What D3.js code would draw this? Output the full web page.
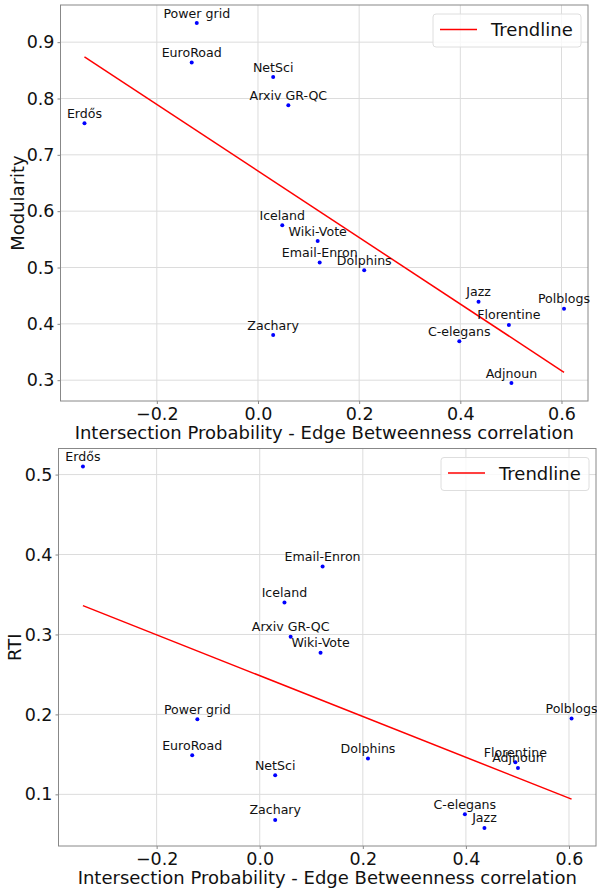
<!DOCTYPE html>
<html>
<head>
<meta charset="utf-8">
<script src="https://cdn.jsdelivr.net/npm/d3@7"></script>
<style>
  body { margin: 0; background: #fff; }
  svg { display: block; font-family: "DejaVu Sans", sans-serif; }
</style>
</head>
<body>
<div id="viz_container"></div>
<script>
// network names and measured values
const networks = ["Erdős", "Power grid", "EuroRoad", "NetSci", "Zachary", "Iceland", "Arxiv GR-QC",
  "Wiki-Vote", "Email-Enron", "Dolphins", "C-elegans", "Jazz", "Florentine", "Adjnoun", "Polblogs"];
const ipEbCorrelation = [-0.343, -0.121, -0.131, 0.030, 0.030, 0.048, 0.060,
  0.118, 0.122, 0.210, 0.398, 0.436, 0.496, 0.501, 0.605];
const modularity = [0.756, 0.934, 0.864, 0.838, 0.380, 0.575, 0.788,
  0.547, 0.509, 0.495, 0.369, 0.439, 0.398, 0.295, 0.427];
const rti = [0.510, 0.194, 0.149, 0.124, 0.068, 0.340, 0.297,
  0.277, 0.385, 0.145, 0.075, 0.058, 0.140, 0.133, 0.195];

// trendline end points (x, y)
const modularityTrend = [[-0.343, 0.874], [0.605, 0.314]];
const rtiTrend = [[-0.343, 0.336], [0.605, 0.094]];

// tick labels
const xTicks = [-0.2, 0.0, 0.2, 0.4, 0.6];
const modularityTicks = [0.3, 0.4, 0.5, 0.6, 0.7, 0.8, 0.9];
const rtiTicks = [0.1, 0.2, 0.3, 0.4, 0.5];

const W = 597, H = 890;
const svg = d3.select("#viz_container")
  .append("svg")
  .attr("width", W)
  .attr("height", H);

// matplotlib style 5% margins
function padded(values) {
  const [lo, hi] = d3.extent(values);
  const m = (hi - lo) * 0.05;
  return [lo - m, hi + m];
}

function panel(box, yValues, trend, yTicks, yLabel, yLabelX) {
  const g = svg.append("g");
  const x = d3.scaleLinear().domain(padded(ipEbCorrelation)).range([box.left, box.right]);
  const y = d3.scaleLinear().domain(padded(yValues)).range([box.bottom, box.top]);

  // grid
  g.append("g")
    .selectAll("line.vx")
    .data(xTicks)
    .join("line")
    .attr("x1", d => x(d)).attr("x2", d => x(d))
    .attr("y1", box.top).attr("y2", box.bottom)
    .attr("stroke", "#dcdcdc").attr("stroke-width", 1);
  g.append("g")
    .selectAll("line.hy")
    .data(yTicks)
    .join("line")
    .attr("x1", box.left).attr("x2", box.right)
    .attr("y1", d => y(d)).attr("y2", d => y(d))
    .attr("stroke", "#dcdcdc").attr("stroke-width", 1);

  // axes
  const fmt = d3.format(".1f");
  const xAxis = g.append("g")
    .attr("transform", `translate(0,${box.bottom})`)
    .call(d3.axisBottom(x).tickValues(xTicks).tickFormat(fmt).tickSize(3).tickPadding(4));
  const yAxis = g.append("g")
    .attr("transform", `translate(${box.left},0)`)
    .call(d3.axisLeft(y).tickValues(yTicks).tickFormat(fmt).tickSize(3).tickPadding(3));
  [xAxis, yAxis].forEach(a => {
    a.select(".domain").remove();
    a.selectAll(".tick line").attr("stroke", "#888");
    a.selectAll(".tick text")
      .attr("fill", "#111")
      .style("font-size", "17.5px")
      .style("font-family", "DejaVu Sans");
  });

  // frame
  g.append("rect")
    .attr("x", box.left).attr("y", box.top)
    .attr("width", box.right - box.left).attr("height", box.bottom - box.top)
    .attr("fill", "none").attr("stroke", "#888").attr("stroke-width", 1);

  // trendline
  g.append("path")
    .datum(trend)
    .attr("d", d3.line().x(d => x(d[0])).y(d => y(d[1])))
    .attr("fill", "none").attr("stroke", "red").attr("stroke-width", 1.5);

  // points
  g.append("g")
    .selectAll("circle")
    .data(networks)
    .join("circle")
    .attr("cx", (d, i) => x(ipEbCorrelation[i]))
    .attr("cy", (d, i) => y(yValues[i]))
    .attr("r", 2)
    .attr("fill", "blue");

  // point labels
  g.append("g")
    .selectAll("text")
    .data(networks)
    .join("text")
    .attr("x", (d, i) => x(ipEbCorrelation[i]))
    .attr("y", (d, i) => y(yValues[i]) - 5.5)
    .attr("text-anchor", "middle")
    .attr("fill", "#111")
    .style("font-size", "12.6px")
    .text(d => d);

  // axis labels
  g.append("text")
    .attr("x", (box.left + box.right) / 2)
    .attr("y", box.bottom + 38)
    .attr("text-anchor", "middle")
    .attr("fill", "#111")
    .style("font-size", "18px")
    .text("Intersection Probability - Edge Betweenness correlation");
  g.append("text")
    .attr("transform", `translate(${yLabelX},${(box.top + box.bottom) / 2}) rotate(-90)`)
    .attr("text-anchor", "middle")
    .attr("dy", "0.35em")
    .attr("fill", "#111")
    .style("font-size", "18px")
    .text(yLabel);

  // legend
  const lx = box.right - 155, ly = box.top + 9;
  const legend = g.append("g").attr("transform", `translate(${lx},${ly})`);
  legend.append("rect")
    .attr("width", 148).attr("height", 33).attr("rx", 3)
    .attr("fill", "white").attr("fill-opacity", 0.8)
    .attr("stroke", "#dedede");
  legend.append("line")
    .attr("x1", 7).attr("x2", 44).attr("y1", 15.5).attr("y2", 15.5)
    .attr("stroke", "red").attr("stroke-width", 1.5);
  legend.append("text")
    .attr("x", 58).attr("y", 22)
    .attr("fill", "#111")
    .style("font-size", "18px")
    .text("Trendline");
}

panel({ left: 60.5, right: 588, top: 5, bottom: 401 }, modularity, modularityTrend,
  modularityTicks, "Modularity", 17.5);
panel({ left: 58.5, right: 596, top: 448.5, bottom: 846 }, rti, rtiTrend,
  rtiTicks, "RTI", 14.5);
</script>
</body>
</html>
